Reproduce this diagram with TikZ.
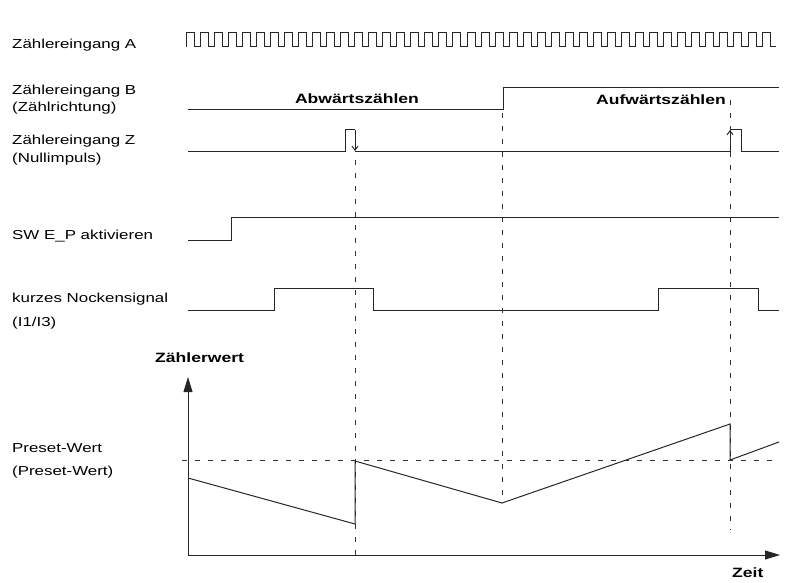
\documentclass[tikz,border=0pt]{standalone}
\usepackage{fontspec}
\setmainfont{Liberation Sans}[FakeStretch=1.3]
\usetikzlibrary{arrows.meta}
\begin{document}
\begin{tikzpicture}[x=1pt,y=-1pt,
  sig/.style={draw=black!85,line width=1pt},
  guide/.style={draw=black!80,line width=0.9pt,dash pattern=on 5pt off 8pt},
  lbl/.style={anchor=base west,inner sep=0pt,font=\fontsize{13}{15}\selectfont},
  head/.style={anchor=base,inner sep=0pt,font=\bfseries\fontsize{13.5}{15}\selectfont},
  axis/.style={draw=black!85,line width=1pt,-{Triangle[length=15pt,width=9pt]}},
  pulseedge/.style={draw=black!85,line width=1pt,-{Straight Barb[length=4pt,width=6pt]}}]
\useasboundingbox (0,0) rectangle (801,583);

% signal names
\node[lbl] (la)  at (12,49)  {Zählereingang A};
\node[lbl] (lb)  at (12,95)  {Zählereingang B};
\node[lbl] (lb2) at (12,112) {(Zählrichtung)};
\node[lbl] (lz)  at (12,145) {Zählereingang Z};
\node[lbl] (lz2) at (12,163) {(Nullimpuls)};
\node[lbl] (lsw) at (12,239) {SW E\_P aktivieren};
\node[lbl] (ln)  at (12,302) {kurzes Nockensignal};
\node[lbl] (ln2) at (12,326) {(I1/I3)};
\node[lbl] (lp)  at (12,452) {Preset-Wert};
\node[lbl] (lp2) at (12,475) {(Preset-Wert)};

% headings
\node[head] (down) at (357,104) {Abwärtszählen};
\node[head] (up)   at (661,105) {Aufwärtszählen};
\node[head,anchor=base west] (yl) at (155,362) {Zählerwert};
\node[head,anchor=base west] (xl) at (732,577) {Zeit};

% counter input A: pulse train
\foreach \i in {0,...,41}{
  \pgfmathsetmacro{\xa}{186+14.05*\i}
  \draw[sig] (\xa,47) -- (\xa,33) -- (\xa+8,33) -- (\xa+8,47) -- (\xa+14.05,47);
}

% counter input B: direction
\draw[sig] (188,110) -- (503,110) -- (503,88) -- (779,88);

% counter input Z: zero pulses
\coordinate (z1a) at (345,130);
\coordinate (z1b) at (355,130);
\coordinate (z1c) at (355,152);
\coordinate (z2a) at (730,152);
\coordinate (z2b) at (730,130);
\draw[sig] (188,152) -- (345,152) -- (z1a) -- (z1b);
\draw[pulseedge] (z1b) -- (355,151);
\draw[sig] (z1c) -- (z2a);
\draw[pulseedge] (z2a) -- (z2b);
\draw[sig] (z2b) -- (741,130) -- (741,152) -- (779,152);

% SW E_P enable
\draw[sig] (188,240) -- (231,240) -- (231,217) -- (779,217);

% short cam signal
\draw[sig] (188,310) -- (274,310) -- (274,288) -- (373,288) -- (373,310)
  -- (658,310) -- (658,288) -- (758,288) -- (758,310) -- (779,310);

% axes
\coordinate (o) at (188,555);
\coordinate (ytip) at (188,377);
\coordinate (xtip) at (780,555);
\draw[axis] (o) -- (ytip);
\draw[axis] (o) -- (xtip);

% guide lines
\draw[guide] (182,460) -- (779,460);
\draw[guide] (355,160) -- (355,556);
\draw[guide] (502,113) -- (502,503);
\draw[guide] (730,100) -- (730,530);

% counter value
\coordinate (c0) at (188,478);
\coordinate (c1) at (355,524);
\coordinate (c2) at (355,461);
\coordinate (c3) at (502,503);
\coordinate (c4) at (730,424);
\coordinate (c5) at (730,460);
\coordinate (c6) at (779,442);
\draw[sig] (c0) -- (c1) -- (c2) -- (c3) -- (c4) -- (c5) -- (c6);
\end{tikzpicture}
\end{document}
